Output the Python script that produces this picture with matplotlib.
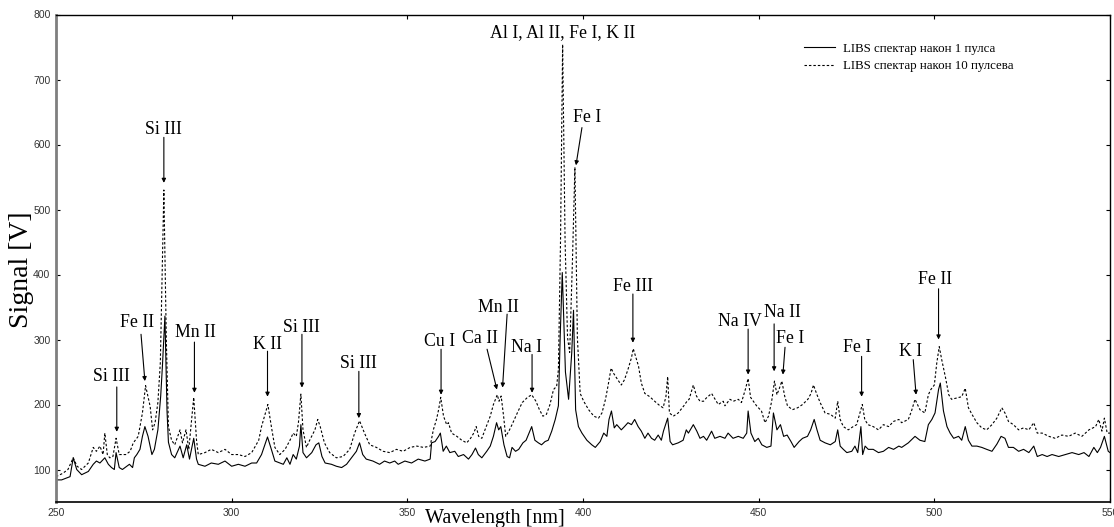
import matplotlib
matplotlib.use("Agg")
import matplotlib.pyplot as plt

# ---- spectrum after 1 pulse (wavelength nm, signal V) ----
wl_1 = [250.0, 251.6, 254.0, 254.9, 255.9, 257.3, 259.2, 260.6, 261.5, 262.5, 263.9, 264.9,
        265.8, 266.6, 267.1, 268.0, 268.9, 270.9, 271.8, 272.3, 273.0, 273.9, 274.6, 275.3,
        276.2, 277.3, 278.0, 279.0, 279.8, 280.3, 281.0, 281.6, 282.0, 282.9, 283.8, 285.3,
        286.2, 287.2, 288.0, 289.2, 290.0, 290.5, 292.4, 294.2, 296.2, 298.1, 300.0, 301.9,
        303.8, 305.7, 307.1, 308.5, 310.2, 311.3, 312.3, 313.7, 314.7, 315.7, 316.6, 317.5,
        318.4, 319.3, 319.7, 320.3, 321.3, 322.8, 324.0, 324.8, 325.7, 326.6, 328.4, 329.8,
        331.3, 332.7, 334.1, 335.5, 336.4, 337.3, 338.3, 340.2, 342.1, 343.5, 345.0, 346.4,
        347.4, 349.3, 351.2, 353.1, 355.0, 356.5, 356.9, 357.9, 358.9, 359.4, 360.2, 361.1,
        362.1, 363.5, 364.5, 366.0, 367.4, 368.4, 369.4, 370.2, 371.2, 372.6, 373.6, 374.5,
        375.4, 376.0, 376.6, 377.5, 378.4, 379.1, 379.8, 380.8, 381.7, 382.9, 383.8, 385.4,
        386.3, 387.3, 388.2, 389.2, 390.1, 391.1, 392.1, 393.0, 393.5, 394.1, 395.0, 395.9,
        396.8, 397.3, 397.9, 398.7, 399.7, 401.1, 402.5, 403.5, 404.9, 405.9, 406.8, 407.4,
        408.1, 408.9, 409.6, 410.9, 411.8, 412.8, 413.8, 414.7, 415.7, 416.6, 417.6, 418.5,
        419.5, 420.4, 421.4, 422.3, 422.9, 424.1, 424.8, 425.5, 427.1, 428.5, 429.4, 430.0,
        431.4, 432.4, 433.3, 434.3, 435.2, 436.6, 437.5, 439.0, 440.4, 441.3, 442.7, 444.2,
        445.6, 446.6, 447.0, 447.8, 448.9, 449.9, 450.9, 452.3, 453.5, 454.2, 455.2, 456.2,
        457.1, 458.1, 459.2, 460.1, 461.5, 462.5, 463.9, 464.8, 465.8, 466.6, 467.5, 468.9,
        470.4, 471.8, 472.5, 473.2, 474.1, 475.1, 476.5, 477.4, 478.2, 479.1, 479.6, 480.3,
        481.2, 482.6, 484.1, 485.5, 487.0, 488.4, 489.9, 490.7, 492.6, 494.5, 495.9, 497.3,
        498.3, 499.3, 500.2, 501.2, 501.7, 502.6, 503.6, 504.5, 505.5, 506.9, 507.8, 508.8,
        509.7, 510.7, 512.1, 513.5, 514.9, 516.4, 517.8, 519.0, 520.1, 521.1, 522.5, 524.0,
        525.4, 526.9, 528.3, 529.3, 530.7, 532.1, 533.5, 535.4, 537.3, 539.2, 541.1, 542.6,
        544.0, 545.4, 546.4, 547.3, 548.4, 549.5, 550.0]
sig_1 = [84, 84, 89, 118, 100, 92, 97, 108, 113, 110, 118, 108,
         103, 100, 126, 103, 100, 108, 103, 118, 123, 131, 151, 166,
         151, 123, 131, 161, 213, 260, 336, 190, 142, 123, 118, 136,
         118, 138, 116, 148, 116, 108, 105, 110, 108, 113, 105, 108,
         105, 110, 110, 123, 150, 131, 113, 110, 108, 118, 108, 123,
         116, 136, 169, 126, 118, 126, 138, 141, 120, 110, 108, 105,
         103, 108, 118, 128, 141, 123, 116, 113, 108, 113, 110, 113,
         108, 113, 110, 116, 113, 116, 141, 143, 151, 156, 128, 136,
         126, 128, 120, 123, 116, 123, 133, 123, 118, 128, 136, 151,
         172, 161, 166, 138, 120, 118, 134, 128, 131, 141, 145, 166,
         145, 141, 138, 143, 145, 159, 177, 198, 303, 403, 250, 208,
         280, 345, 192, 166, 156, 145, 138, 134, 143, 156, 151, 177,
         190, 164, 169, 161, 166, 172, 169, 177, 166, 159, 148, 156,
         148, 145, 153, 145, 159, 179, 143, 138, 141, 145, 161, 156,
         169, 159, 148, 151, 145, 159, 148, 151, 148, 156, 148, 151,
         148, 156, 190, 156, 143, 148, 138, 134, 136, 187, 161, 169,
         151, 153, 143, 134, 143, 148, 151, 161, 177, 161, 145, 141,
         138, 143, 161, 136, 131, 126, 128, 136, 126, 166, 123, 136,
         131, 131, 126, 128, 134, 131, 136, 134, 141, 151, 145, 143,
         169, 177, 187, 223, 233, 190, 166, 156, 148, 151, 145, 166,
         145, 136, 136, 134, 131, 128, 139, 151, 148, 134, 134, 128,
         131, 126, 136, 120, 123, 120, 123, 120, 123, 126, 123, 126,
         120, 134, 126, 134, 151, 128, 126]

# ---- spectrum after 10 pulses ----
wl_10 = [250.0, 251.9, 253.4, 254.9, 256.0, 257.3, 259.2, 260.6, 261.5, 262.5, 263.4, 263.9,
         264.6, 265.3, 266.2, 267.1, 268.0, 269.9, 271.1, 272.0, 273.4, 274.6, 275.5, 276.8,
         277.5, 278.2, 279.0, 279.7, 280.7, 281.4, 282.0, 282.9, 283.8, 285.3, 286.0, 287.0,
         287.8, 289.2, 290.0, 290.5, 292.4, 294.2, 296.2, 298.1, 300.0, 301.9, 303.8, 305.7,
         307.7, 308.5, 310.3, 311.3, 312.3, 313.7, 315.2, 316.6, 317.5, 318.4, 319.0, 319.7,
         320.3, 321.3, 322.2, 323.7, 324.5, 325.2, 326.4, 327.9, 329.8, 331.7, 333.6, 335.0,
         336.4, 337.8, 339.3, 341.2, 343.1, 345.0, 346.9, 348.8, 350.8, 352.7, 354.6, 356.5,
         357.4, 358.3, 358.9, 359.5, 360.3, 361.2, 361.7, 362.6, 364.1, 365.5, 366.9, 368.0,
         368.9, 369.6, 370.3, 371.2, 372.1, 373.6, 374.5, 375.6, 376.1, 376.7, 377.4, 378.0,
         378.9, 379.8, 381.3, 382.7, 384.2, 385.4, 386.6, 387.6, 388.6, 389.6, 390.6, 391.6,
         392.5, 393.0, 393.6, 394.2, 394.9, 395.6, 396.2, 397.0, 397.7, 398.4, 399.2, 400.2,
         401.6, 403.1, 404.4, 405.4, 406.4, 407.1, 408.0, 408.7, 409.9, 410.9, 411.8, 412.8,
         413.8, 414.3, 415.8, 416.6, 417.6, 419.0, 420.4, 421.9, 422.8, 423.6, 424.1, 424.6,
         425.7, 427.1, 428.7, 429.6, 430.2, 431.4, 432.3, 433.3, 434.3, 435.1, 436.6, 437.6,
         438.5, 439.9, 440.4, 441.8, 442.8, 444.2, 445.1, 446.3, 447.0, 447.7, 449.4, 450.8,
         451.8, 452.8, 453.7, 454.5, 455.2, 455.9, 456.6, 457.4, 458.2, 459.6, 461.1, 462.5,
         464.0, 464.9, 465.6, 466.6, 467.5, 468.9, 470.4, 471.8, 472.5, 473.2, 474.1, 475.5,
         476.9, 477.9, 478.4, 479.5, 480.2, 481.1, 482.6, 484.1, 485.5, 487.0, 488.4, 489.9,
         490.7, 492.6, 493.5, 494.5, 495.9, 497.3, 498.3, 499.0, 500.0, 500.7, 501.4, 502.1,
         503.2, 504.1, 504.9, 506.4, 507.8, 508.8, 509.7, 510.7, 512.1, 513.5, 514.9, 516.4,
         517.8, 519.2, 520.1, 521.1, 522.5, 524.0, 525.4, 526.9, 528.3, 529.3, 530.7, 532.6,
         534.4, 536.3, 538.2, 540.1, 542.0, 544.0, 545.9, 546.8, 547.7, 548.4, 549.2, 550.0]
sig_10 = [89, 94, 100, 118, 105, 100, 110, 134, 128, 136, 123, 156,
          123, 118, 120, 148, 123, 123, 128, 141, 151, 187, 229, 197,
          161, 172, 203, 265, 530, 300, 166, 145, 138, 161, 141, 161,
          131, 211, 145, 123, 126, 131, 126, 131, 123, 123, 120, 126,
          145, 166, 200, 166, 134, 123, 131, 145, 156, 151, 172, 216,
          161, 134, 145, 161, 177, 166, 141, 126, 118, 120, 131, 156,
          175, 156, 138, 134, 128, 126, 131, 128, 134, 136, 134, 136,
          161, 177, 192, 211, 182, 169, 172, 156, 151, 145, 141, 148,
          156, 166, 151, 148, 161, 182, 200, 215, 205, 213, 182, 151,
          159, 169, 187, 203, 211, 215, 205, 192, 182, 185, 200, 223,
          228, 254, 451, 754, 451, 303, 280, 422, 565, 303, 217, 205,
          192, 182, 179, 187, 208, 228, 256, 248, 238, 230, 238, 254,
          272, 286, 259, 233, 217, 212, 205, 198, 195, 212, 243, 187,
          182, 187, 198, 205, 208, 230, 213, 205, 205, 210, 217, 208,
          200, 205, 198, 208, 205, 208, 203, 225, 240, 211, 198, 190,
          172, 182, 205, 236, 215, 225, 236, 213, 198, 192, 195, 200,
          208, 217, 230, 215, 203, 187, 185, 179, 205, 177, 166, 161,
          166, 169, 179, 200, 177, 169, 166, 161, 169, 166, 174, 177,
          172, 177, 190, 208, 192, 187, 215, 223, 230, 264, 289, 269,
          241, 215, 208, 210, 212, 225, 195, 185, 172, 164, 161, 169,
          179, 195, 187, 174, 169, 161, 164, 161, 172, 156, 156, 151,
          148, 153, 151, 156, 151, 161, 166, 177, 159, 179, 156, 156]

# ---- line identifications: label, arrow tip (nm, V), arrow tail (nm, V), label centre (nm, V) ----
peak_labels = ["Si III", "Fe II", "Si III", "Mn II", "K II", "Si III", "Si III", "Cu I",
               "Ca II", "Mn II", "Na I", "Fe I", "Fe III", "Na IV", "Na II", "Fe I",
               "Fe I", "K I", "Fe II"]
arrow_tip = [(267.3, 158), (275.3, 236), (280.7, 541), (289.4, 218), (310.2, 212),
             (320.0, 226), (336.2, 179), (359.6, 215), (375.5, 223), (377.1, 226),
             (385.5, 218), (398.0, 568), (414.2, 295), (447.0, 246), (454.4, 251),
             (456.9, 246), (479.3, 212), (494.8, 215), (501.2, 300)]
arrow_tail = [(267.3, 227), (274.2, 308), (280.7, 611), (289.4, 296), (310.2, 282),
              (320.0, 308), (336.2, 251), (359.6, 285), (372.7, 285), (378.4, 339),
              (385.5, 277), (399.7, 626), (414.2, 370), (447.0, 316), (454.4, 324),
              (457.5, 288), (479.3, 274), (494.0, 269), (501.2, 378)]
label_pos = [(265.9, 243), (273.1, 326), (280.5, 623), (289.6, 311), (310.1, 293),
             (320.0, 318), (336.0, 263), (359.3, 297), (370.7, 301), (375.8, 349),
             (383.8, 288), (401.2, 642), (414.2, 382), (444.7, 327), (456.7, 341),
             (458.9, 302), (478.0, 287), (493.1, 282), (500.2, 393)]
top_label = "Al I, Al II, Fe I, K II"
top_label_pos = (394.3, 772)

legend_labels = ["LIBS спектар након 1 пулса", "LIBS спектар након 10 пулсева"]

serif = ["Liberation Serif", "DejaVu Serif"]

fig = plt.figure(figsize=(11.14, 5.27), dpi=100)
ax = fig.add_axes([56 / 1114, 25 / 527, 1054 / 1114, 487.5 / 527])

ax.plot(wl_1, sig_1, color="black", lw=0.8, label=legend_labels[0])
ax.plot(wl_10, sig_10, color="black", lw=0.8, linestyle=(0, (2.2, 1.8)),
        label=legend_labels[1])

ax.set_xlim(250, 550)
ax.set_ylim(50, 800)
ax.set_xticks(range(250, 551, 50))
ax.set_yticks(range(100, 801, 100))
ax.tick_params(direction="in", length=3, width=0.8, top=True, right=True,
               labelsize=7.5, labelcolor="#333333", pad=4)
for lab in ax.get_xticklabels() + ax.get_yticklabels():
    lab.set_family("Liberation Sans")

ax.spines["left"].set_color("#7f7f7f")
ax.spines["left"].set_linewidth(2.0)
ax.spines["bottom"].set_linewidth(1.2)
ax.spines["top"].set_linewidth(1.0)
ax.spines["right"].set_linewidth(1.0)

for lab, tip, tail, pos in zip(peak_labels, arrow_tip, arrow_tail, label_pos):
    ax.annotate("", xy=tip, xytext=tail,
                arrowprops=dict(arrowstyle="-|>", lw=0.8, color="black",
                                mutation_scale=6, shrinkA=0, shrinkB=0))
    ax.text(pos[0], pos[1], lab, ha="center", va="center", fontsize=12.8,
            family=serif)
ax.text(top_label_pos[0], top_label_pos[1], top_label, ha="center", va="center",
        fontsize=12.8, family=serif)

ax.legend(loc="upper left", bbox_to_anchor=(0.705, 0.953), frameon=False,
          prop=dict(family=serif, size=9.3), handlelength=2.4, handletextpad=0.6,
          labelspacing=0.45, borderaxespad=0)

fig.text(22 / 1114, 1 - 270 / 527, "Signal [V]", rotation=90, ha="center",
         va="center", fontsize=20, family=serif)
fig.text(495 / 1114, 1 - 519 / 527, "Wavelength [nm]", ha="center", va="center",
         fontsize=14.5, family=serif)

fig.savefig("out.png", dpi=100)
